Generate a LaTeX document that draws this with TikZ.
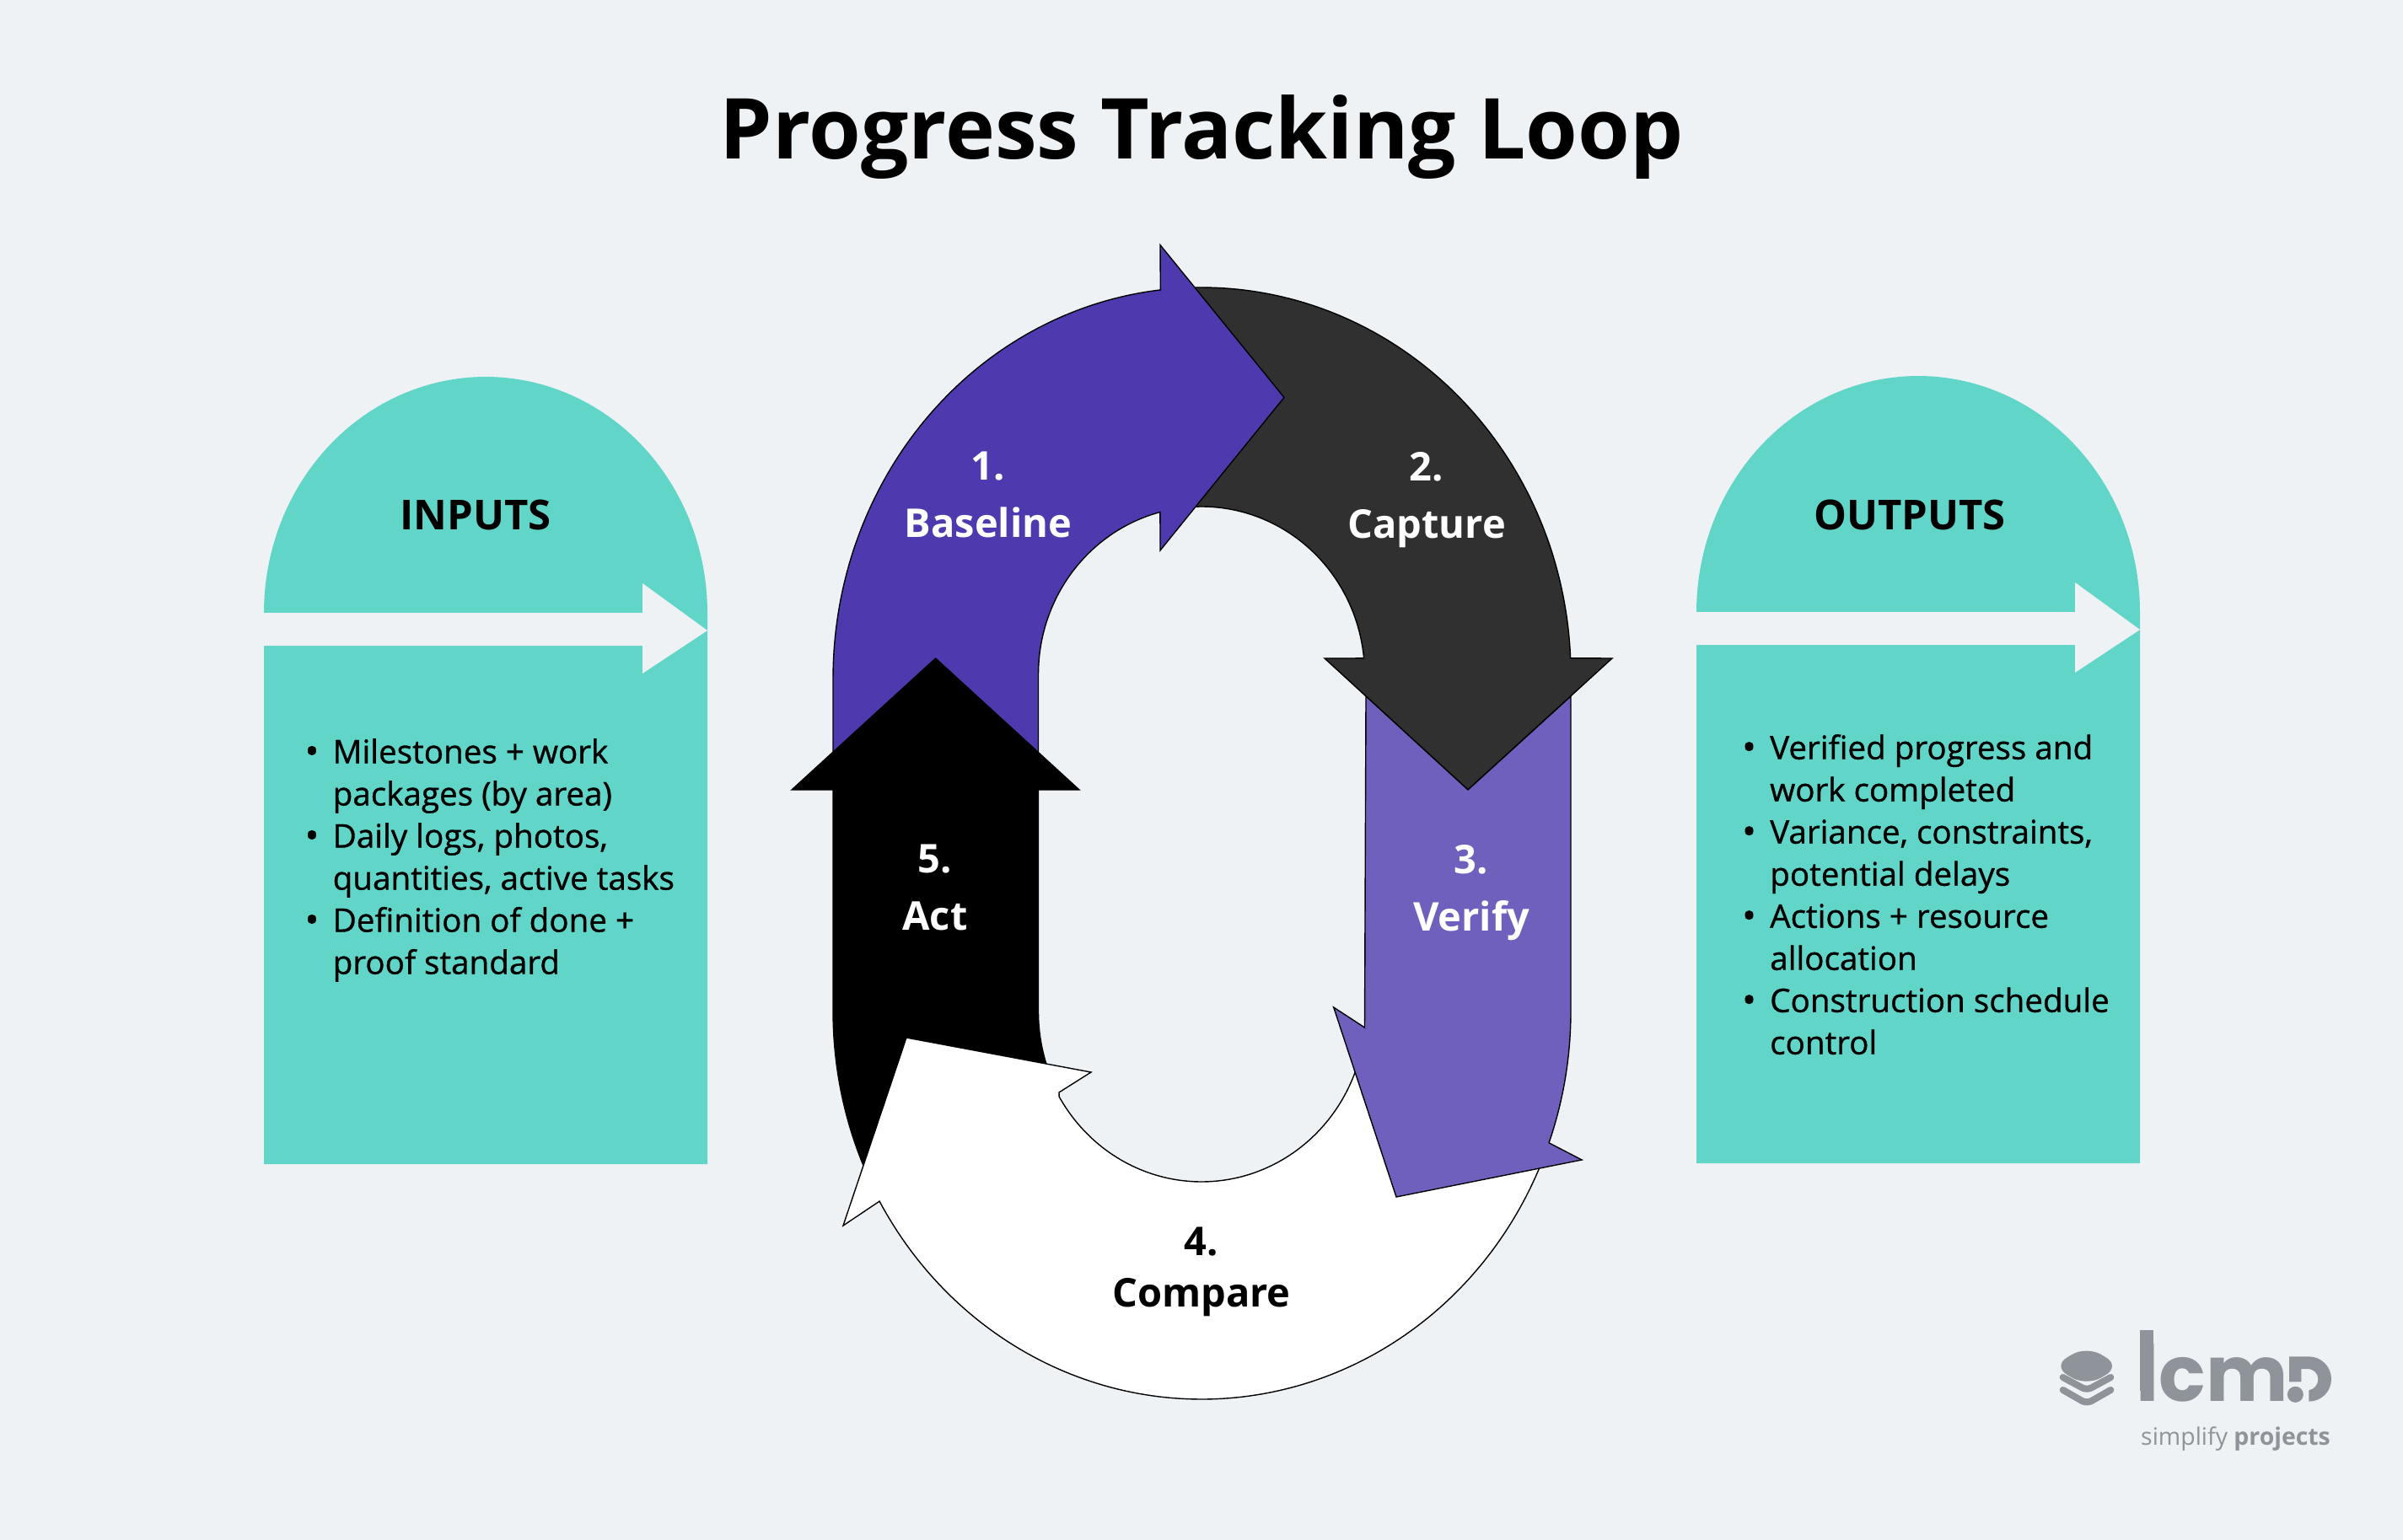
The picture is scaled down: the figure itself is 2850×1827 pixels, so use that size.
\documentclass[tikz,border=0pt]{standalone}
\usepackage{fontspec}
\setmainfont{Open Sans}
\newfontfamily\bodyfont{Open Sans}[FakeBold=0.9]
\newfontfamily\logofont{Poppins}
\definecolor{bgc}{HTML}{EEF2F5}
\definecolor{tealc}{HTML}{61D5C7}
\definecolor{purpa}{HTML}{4E3AAE}
\definecolor{purpb}{HTML}{7060BD}
\definecolor{darkc}{HTML}{303030}
\definecolor{logoc}{HTML}{8F949A}
\tikzset{
  seg/.style={draw=black,line width=1.4pt,line join=miter,miter limit=8},
  lbl/.style={font=\bfseries\fontsize{47}{68}\selectfont,align=center,inner sep=0pt,anchor=north},
  paneltitle/.style={font=\bfseries\fontsize{49}{54}\selectfont,inner sep=0pt,anchor=center},
  bodytxt/.style={font=\bodyfont\fontsize{38.6}{50}\selectfont,inner sep=0pt,anchor=north west,align=left,text=black},
}
\newcommand{\bul}{\makebox[33pt][l]{\raisebox{-1pt}{\fontsize{44}{50}\selectfont •}}}
\newcommand{\hng}{\hspace*{33pt}}
\begin{document}
\begin{tikzpicture}[x=1pt,y=-1pt]
\useasboundingbox (0,0) rectangle (2850,1827);
\fill[bgc] (0,0) rectangle (2850,1827);
% panels
\fill[tealc] (313,1381) -- (313,727)
  -- plot[domain=180:360,samples=90] ({576+263*cos(\x)},{727+280*sin(\x)})
  -- (839,1381) -- cycle;
\fill[bgc] (313,727) -- (762,727) -- (762,692) -- (839,748) -- (762,799) -- (762,766) -- (313,766) -- cycle;
\fill[tealc] (2012,1380) -- (2012,726)
  -- plot[domain=180:360,samples=90] ({2275+263*cos(\x)},{726+280*sin(\x)})
  -- (2538,1380) -- cycle;
\fill[bgc] (2012,726) -- (2461,726) -- (2461,691) -- (2538,747) -- (2461,798) -- (2461,765) -- (2012,765) -- cycle;
% arrow 2
\draw[seg,fill=darkc]
  plot[domain=265:357.6,samples=80] ({1425+438*cos(\x)},{800+459*sin(\x)})
  -- (1912,781) -- (1741,937) -- (1571,781)
  -- plot[domain=354.5:265,samples=60] ({1425+193.5*cos(\x)},{800+199*sin(\x)})
  -- cycle;
% arrow 1
\draw[seg,fill=purpa] (988,930)
  -- plot[domain=180:263.6,samples=80] ({1425+437*cos(\x)},{805+464*sin(\x)})
  -- (1376,290.6) -- (1523,471.5) -- (1376,653)
  -- plot[domain=255.3:180,samples=60] ({1425+193.5*cos(\x)},{800+199*sin(\x)})
  -- (1231.5,930) -- cycle;
% arrow 5
\draw[seg,fill=black] (1109.6,781) -- (1280,937) -- (1231.5,937)
  -- plot[domain=180:160,samples=20] ({1425+193.5*cos(\x)},{1200+202*sin(\x)})
  -- plot[domain=155:180,samples=20] ({1425+437*cos(\x)},{1200+460*sin(\x)})
  -- (988,937) -- (939,937) -- cycle;
% arrow 4
\draw[seg,fill=white]
  plot[domain=22:150.7,samples=120] ({1425+438*cos(\x)},{1200+460*sin(\x)})
  -- (1000,1454) -- (1075,1231) -- (1294,1272) -- (1256,1296)
  -- plot[domain=150:15,samples=90] ({1425+195*cos(\x)},{1200+202*sin(\x)})
  -- cycle;
% arrow 3
\draw[seg,fill=purpb] (1620,826) -- (1741,937) -- (1863,826) -- (1863,1200)
  -- plot[domain=0:19.8,samples=20] ({1425+438*cos(\x)},{1200+460*sin(\x)})
  -- (1876,1376) -- (1656,1420) -- (1581.7,1195) -- (1618.5,1219) -- cycle;
% title
\node[inner sep=0pt,font=\bfseries\fontsize{99.8}{110}\selectfont] (title) at (1425,163) {Progress Tracking Loop};
% step labels
\node[lbl,text=white] (s1) at (1172,536) {1.\\Baseline};
\node[lbl,text=white] (s2) at (1692,536) {2.\\Capture};
\node[lbl,text=white] (s3) at (1745,1002) {3.\\Verify};
\node[lbl,text=black,font=\bfseries\fontsize{47}{61}\selectfont] (s4) at (1425,1456) {4.\\Compare};
\node[lbl,text=white] (s5) at (1109,1002) {5.\\Act};
% panel titles
\node[paneltitle] (inp) at (564,611) {INPUTS};
\node[paneltitle] (outp) at (2265,611) {OUTPUTS};
% bodies
\node[bodytxt] (inbody) at (361.5,876) {\bul Milestones + work\\\hng packages (by area)\\\bul Daily logs, photos,\\\hng quantities, active tasks\\\bul Definition of done +\\\hng proof standard};
\node[bodytxt] (outbody) at (2066,871) {\bul Verified progress and\\\hng work completed\\\bul Variance, constraints,\\\hng potential delays\\\bul Actions + resource\\\hng allocation\\\bul Construction schedule\\\hng control};
% logo
\begin{scope}[shift={(2400,1550)},x=0.3333pt,y=-0.3333pt]
  \fill[logoc,rounded corners=20pt] (224,140) -- (345,212) -- (224,284) -- (103,212) -- cycle;
  \draw[logoc,line width=8pt,line cap=round,line join=round] (140,252) -- (210,290) to[out=-20,in=200] (240,290) -- (310,252);
  \draw[logoc,line width=8pt,line cap=round,line join=round] (140,297) -- (210,337) to[out=-20,in=200] (240,337) -- (310,297);
  \node[inner sep=0pt,anchor=base west,text=logoc,font=\logofont\bfseries\fontsize{92}{95}\selectfont] (lcm) at (400,338) {lcm};
  \fill[logoc] (415,85) rectangle (461,300);
  \fill[logoc] (945,178) -- (1015,178)
     .. controls (1060,178) and (1095,215) .. (1095,258)
     .. controls (1095,302) and (1060,338) .. (1015,338)
     -- (1015,298) .. controls (1035,295) and (1048,278) .. (1048,258)
     .. controls (1048,238) and (1032,222) .. (1010,222)
     -- (988,222) -- (988,268) -- (945,268) -- cycle;
  \fill[logoc] (967,313) circle[radius=9.5pt];
\end{scope}
\node[inner sep=0pt,anchor=base west,text=logoc,font=\fontsize{28.4}{32}\selectfont] (tag) at (2539,1714) {simplify {\bfseries projects}};
\end{tikzpicture}
\end{document}
